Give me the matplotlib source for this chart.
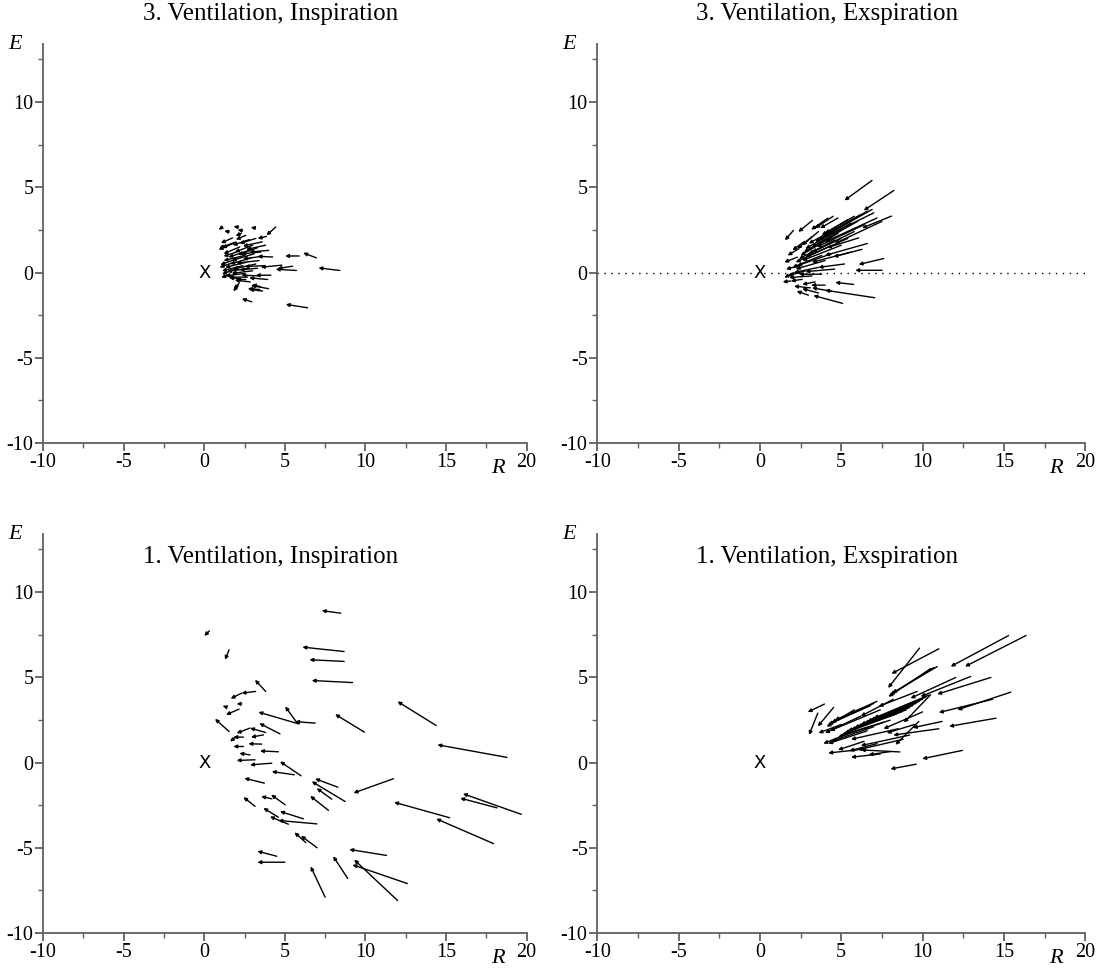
import matplotlib
matplotlib.use("Agg")
import matplotlib.pyplot as plt
from matplotlib.ticker import MultipleLocator

plt.rcParams["axes.unicode_minus"] = False

# arrows: (R tail, E tail, R head, E head)
insp3 = [
    (4.44, 2.67, 3.86, 2.18), (3.86, 2.12, 3.31, 1.99), (1.14, 2.67, 0.89, 2.51),
    (2.13, 2.65, 1.82, 2.71), (3.16, 2.61, 2.89, 2.65), (1.55, 2.38, 1.24, 2.45),
    (2.38, 2.45, 2.07, 2.51), (2.30, 2.30, 1.95, 2.15), (2.58, 2.18, 1.96, 1.93),
    (1.76, 2.03, 1.03, 1.73), (1.96, 1.79, 0.93, 1.44), (2.79, 1.93, 1.76, 1.60),
    (1.55, 1.60, 0.89, 1.34), (4.24, 0.91, 3.31, 0.95), (5.89, 0.97, 5.02, 0.97),
    (6.96, 0.86, 6.14, 1.15), (8.41, 0.12, 7.09, 0.27), (4.81, 0.43, 3.51, 0.31),
    (5.48, 0.37, 4.55, 0.23), (5.72, 0.12, 4.44, 0.19), (4.13, -0.16, 3.20, -0.16),
    (3.93, -0.41, 2.79, -0.31), (2.69, -0.27, 1.51, -0.27), (2.95, -1.72, 2.33, -1.54),
    (6.41, -2.07, 5.06, -1.87), (2.17, -0.61, 1.86, -0.99), (2.10, -0.75, 1.80, -1.10),
    (3.99, -0.95, 2.90, -0.76), (3.62, -1.09, 2.79, -0.99), (3.51, -0.84, 2.96, -0.70),
    (3.45, -1.00, 2.70, -0.95), (2.58, -0.41, 1.97, -0.41), (2.27, -0.37, 1.55, -0.31),
    (3.00, 1.60, 1.90, 1.20), (3.30, 1.45, 2.10, 1.05), (2.80, 1.30, 1.50, 0.90),
    (3.50, 1.20, 2.30, 1.10), (3.10, 1.10, 1.70, 0.70), (3.60, 0.95, 2.40, 0.80),
    (2.90, 0.85, 1.60, 0.50), (3.40, 0.70, 2.00, 0.55), (2.60, 0.60, 1.30, 0.30),
    (3.20, 0.50, 1.80, 0.20), (3.70, 0.40, 2.50, 0.35), (2.80, 0.25, 1.40, 0.05),
    (3.00, 0.10, 1.70, -0.05), (2.50, -0.05, 1.30, -0.20), (3.30, 0.25, 2.20, 0.15),
    (2.20, 1.50, 1.20, 1.10), (2.50, 1.00, 1.20, 0.70), (2.00, 0.80, 1.00, 0.45),
    (2.40, 0.40, 1.10, 0.10), (3.80, 1.60, 2.60, 1.35), (4.00, 1.30, 2.80, 1.20),
    (2.00, 1.20, 1.20, 0.95), (1.90, 0.20, 1.10, -0.10), (3.60, 1.80, 2.40, 1.55),
    (1.80, 1.70, 1.10, 1.45), (3.20, 2.00, 2.20, 1.70), (1.70, 0.55, 0.95, 0.30),
    (2.85, -0.55, 1.90, -0.45), (3.40, -0.20, 2.30, -0.15), (1.60, -0.10, 1.05, -0.30),
]

exsp3 = [
    (6.89, 5.40, 5.20, 4.23), (8.23, 4.81, 6.38, 3.64), (8.09, 3.31, 6.28, 2.61),
    (7.61, 0.82, 6.07, 0.47), (7.51, 0.13, 5.86, 0.13), (5.76, -0.70, 4.63, -0.58),
    (7.06, -1.48, 4.01, -1.04), (5.08, -1.81, 3.29, -1.35), (2.98, -1.33, 2.26, -1.09),
    (4.01, -0.74, 3.15, -0.74), (3.40, -0.55, 2.60, -0.70), (6.28, 1.36, 4.52, 0.92),
    (6.07, 2.03, 4.12, 1.45), (3.23, 3.06, 2.36, 2.38), (2.06, 2.47, 1.54, 1.89),
    (4.18, 3.19, 3.15, 2.51), (4.50, 3.30, 3.40, 2.60), (4.80, 3.20, 3.70, 2.60),
    (6.90, 3.70, 3.90, 2.10), (7.00, 3.50, 3.60, 1.90), (6.60, 3.60, 3.40, 1.80),
    (6.20, 3.40, 3.00, 1.70), (7.20, 3.20, 4.00, 1.80), (6.00, 3.00, 3.20, 1.50),
    (5.60, 2.90, 2.80, 1.40), (6.40, 2.80, 3.50, 1.50), (5.20, 2.60, 2.70, 1.20),
    (5.80, 2.40, 3.00, 1.10), (4.80, 2.30, 2.50, 1.00), (5.40, 2.00, 2.80, 0.90),
    (4.60, 1.90, 2.40, 0.80), (5.00, 1.60, 2.60, 0.70), (4.20, 1.50, 2.20, 0.60),
    (6.60, 1.70, 4.00, 1.00), (4.40, 1.10, 2.30, 0.40), (5.60, 1.20, 3.20, 0.60),
    (3.80, 1.00, 2.00, 0.30), (4.00, 0.70, 2.20, 0.20), (5.20, 0.50, 3.60, 0.30),
    (4.60, 0.20, 2.80, 0.05), (3.60, 0.30, 2.10, 0.00), (3.80, -0.10, 2.40, -0.10),
    (3.20, -0.20, 1.80, -0.30), (2.80, 0.10, 1.70, -0.20), (2.50, 0.40, 1.60, 0.20),
    (2.30, 0.90, 1.50, 0.60), (2.40, 1.40, 1.70, 1.00), (2.70, 1.80, 2.00, 1.30),
    (2.10, 0.00, 1.50, -0.30), (1.90, -0.50, 1.40, -0.55), (2.60, -0.40, 1.90, -0.50),
    (3.60, -1.20, 2.60, -0.95), (4.40, -1.10, 3.20, -0.90), (3.10, -0.90, 2.10, -0.80),
    (3.60, 2.40, 2.60, 1.60), (3.20, 2.10, 2.30, 1.40), (5.40, 3.10, 3.80, 2.20),
    (5.80, 3.30, 4.00, 2.30), (7.50, 3.00, 4.60, 1.70), (5.00, 2.00, 3.20, 1.20),
]

insp1 = [
    (8.47, 8.76, 7.29, 8.91), (0.32, 7.72, 0.00, 7.43), (1.54, 6.61, 1.29, 6.03),
    (8.68, 6.51, 6.09, 6.77), (8.68, 5.93, 6.53, 6.03), (9.20, 4.69, 6.67, 4.81),
    (3.81, 4.17, 3.15, 4.85), (3.19, 4.17, 2.32, 4.07), (2.32, 4.07, 1.64, 3.75),
    (2.32, 3.44, 2.01, 3.44), (1.25, 3.29, 1.15, 3.32), (2.16, 3.13, 1.35, 2.80),
    (5.88, 2.26, 3.36, 2.96), (6.88, 2.31, 5.64, 2.40), (5.74, 2.35, 5.02, 3.29),
    (4.70, 1.68, 3.42, 2.30), (9.94, 1.78, 8.12, 2.83), (1.54, 1.82, 0.67, 2.56),
    (3.81, 1.76, 2.84, 2.02), (2.84, 2.02, 2.01, 1.72), (3.67, 1.62, 2.90, 1.49),
    (2.43, 1.49, 1.81, 1.49), (1.95, 1.49, 1.60, 1.23), (2.43, 0.94, 1.81, 0.94),
    (3.57, 1.08, 2.74, 1.10), (4.60, 0.63, 3.46, 0.68), (2.84, 0.45, 2.18, 0.54),
    (3.15, 0.16, 2.01, 0.12), (4.19, -0.04, 2.84, -0.14), (6.01, -0.78, 4.70, 0.06),
    (5.59, -0.72, 4.19, -0.53), (3.73, -1.21, 2.49, -0.92), (11.74, -0.95, 9.26, -1.79),
    (8.29, -1.45, 6.88, -0.95), (8.74, -2.29, 6.67, -1.11), (7.91, -2.15, 6.98, -1.51),
    (7.71, -2.81, 6.57, -1.96), (3.15, -2.57, 2.43, -2.03), (4.19, -2.13, 3.53, -1.99),
    (5.02, -2.48, 4.15, -1.89), (6.15, -3.30, 4.70, -2.87), (4.60, -3.21, 3.67, -2.67),
    (6.98, -3.60, 4.60, -3.40), (5.22, -3.62, 4.08, -3.17),
    (14.39, 2.17, 11.99, 3.58), (18.78, 0.30, 14.47, 1.04),
    (19.67, -3.04, 16.05, -1.83), (18.16, -2.66, 15.88, -2.09), (15.22, -3.24, 11.78, -2.33),
    (17.95, -4.76, 14.39, -3.30),
    (4.50, -5.50, 3.30, -5.20), (5.00, -5.85, 3.30, -5.85), (7.50, -7.90, 6.60, -6.10),
    (6.30, -4.70, 5.60, -4.10), (7.00, -5.00, 6.00, -4.30), (8.90, -6.80, 8.00, -5.50),
    (11.30, -5.45, 9.00, -5.10), (12.00, -8.10, 9.30, -5.70), (12.60, -7.10, 9.20, -6.00),
]

exsp1 = [
    (15.29, 7.45, 11.73, 5.63), (16.36, 7.45, 12.61, 5.63), (9.81, 6.71, 7.88, 4.37),
    (11.00, 6.67, 8.09, 5.21), (10.90, 5.63, 8.13, 4.07), (10.70, 5.57, 8.00, 3.96),
    (10.50, 5.51, 7.90, 3.86), (12.04, 4.99, 9.26, 3.77), (12.96, 5.05, 9.88, 3.87),
    (14.20, 4.99, 10.90, 4.01), (9.67, 4.17, 7.30, 3.29), (15.43, 4.13, 12.14, 3.09),
    (14.30, 3.71, 11.00, 2.93), (14.51, 2.60, 11.63, 2.12), (12.45, 0.71, 9.98, 0.22),
    (9.61, -0.10, 8.02, -0.38), (3.97, 3.43, 2.94, 2.96), (3.56, 2.90, 3.02, 1.62),
    (4.53, 3.23, 3.56, 2.12), (10.49, 3.97, 8.85, 2.35), (9.77, 2.41, 8.33, 1.04),
    (8.02, 0.64, 6.69, 0.46), (10.40, 3.96, 7.00, 2.60), (10.20, 3.84, 6.80, 2.48),
    (10.00, 3.71, 6.60, 2.41), (9.80, 3.59, 6.40, 2.29), (9.60, 3.47, 6.20, 2.23),
    (9.40, 3.34, 6.00, 2.10), (9.20, 3.22, 5.80, 2.04), (9.00, 3.09, 5.60, 1.92),
    (8.70, 2.97, 5.40, 1.86), (8.40, 2.85, 5.20, 1.73), (7.20, 3.59, 4.60, 2.48),
    (7.00, 3.47, 4.40, 2.35), (6.80, 3.34, 4.20, 2.23), (7.40, 3.09, 4.30, 1.86),
    (8.00, 2.48, 5.00, 1.61), (7.60, 2.35, 4.80, 1.49), (7.00, 2.10, 4.40, 1.24),
    (6.60, 1.86, 4.20, 1.11), (8.50, 1.98, 5.60, 1.36), (9.20, 1.61, 6.20, 0.99),
    (9.50, 2.23, 7.80, 1.73), (11.20, 2.41, 9.40, 2.04), (11.00, 1.98, 8.20, 1.61),
    (8.80, 1.36, 6.00, 0.74), (7.20, 1.11, 5.50, 0.68), (6.40, 1.24, 4.80, 0.74),
    (6.00, 0.74, 4.20, 0.56), (7.40, 0.50, 5.60, 0.31), (5.50, 1.73, 3.90, 1.11),
    (5.00, 2.23, 3.60, 1.73), (6.20, 2.72, 4.00, 1.73), (5.80, 3.09, 4.10, 2.10),
    (8.60, 0.62, 6.20, 0.74), (10.00, 2.97, 7.60, 1.98), (8.20, 3.71, 6.20, 2.72),
]

titles = ["3. Ventilation, Inspiration", "3. Ventilation, Exspiration",
          "1. Ventilation, Inspiration", "1. Ventilation, Exspiration"]
panels = [insp3, exsp3, insp1, exsp1]

serif = "Liberation Serif"
axis_col = "#606060"

fig = plt.figure(figsize=(11.04, 9.8), dpi=100)
positions = [
    [0.039, 0.548, 0.438, 0.407],
    [0.541, 0.548, 0.442, 0.407],
    [0.039, 0.048, 0.438, 0.407],
    [0.541, 0.048, 0.442, 0.407],
]
title_y = [0.986, 0.986, 0.432, 0.432]

for k, (pos, arrows, title) in enumerate(zip(positions, panels, titles)):
    ax = fig.add_axes(pos)
    ax.set_xlim(-10, 20)
    ax.set_ylim(-10, 13.4)
    for s in ["top", "right"]:
        ax.spines[s].set_visible(False)
    for s in ["left", "bottom"]:
        ax.spines[s].set_color(axis_col)
        ax.spines[s].set_linewidth(1.3)
    ax.xaxis.set_major_locator(MultipleLocator(5))
    ax.xaxis.set_minor_locator(MultipleLocator(2.5))
    ax.yaxis.set_major_locator(MultipleLocator(5))
    ax.yaxis.set_minor_locator(MultipleLocator(2.5))
    ax.tick_params(which="major", length=6, width=1.3, color=axis_col, pad=1,
                   labelsize=14.5)
    ax.tick_params(which="minor", length=3.5, width=1.0, color=axis_col)
    for lab in ax.get_xticklabels() + ax.get_yticklabels():
        lab.set_fontfamily(serif)

    for r0, e0, r1, e1 in arrows:
        ax.annotate("", xy=(r1, e1), xytext=(r0, e0),
                    arrowprops=dict(arrowstyle="-|>", color="black", lw=1.0,
                                    mutation_scale=5, shrinkA=0, shrinkB=0))

    ax.text(0, 0, "X", ha="center", va="center", fontsize=13,
            family="DejaVu Sans")
    if k == 1:
        ax.axhline(0, color="black", lw=1.0, ls=(0, (1, 4)))

    ax.text(-0.057, 1.0, "E", transform=ax.transAxes, fontsize=16,
            family=serif, style="italic", ha="center", va="center")
    ax.text(0.94, -0.065, "R", transform=ax.transAxes, fontsize=16,
            family=serif, style="italic", ha="center", va="center")
    cx = pos[0] + pos[2] / 2 - 0.013
    fig.text(cx, title_y[k], title, ha="center", va="center", fontsize=18,
             family=serif)

fig.savefig("out.png", dpi=100)
